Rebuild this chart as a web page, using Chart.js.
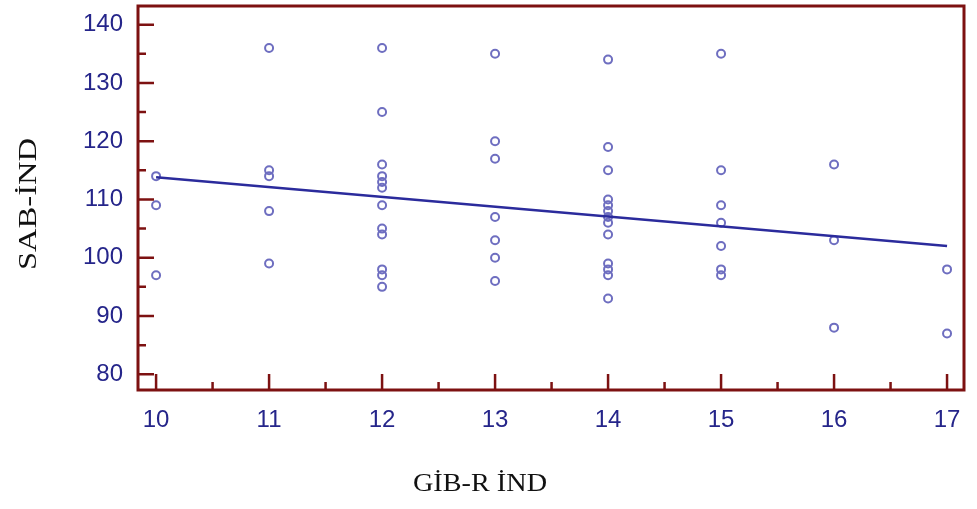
<!DOCTYPE html>
<html lang="tr">
<head>
<meta charset="UTF-8">
<title>SAB-İND / GİB-R İND</title>
<script src="https://cdn.jsdelivr.net/npm/chart.js"></script>
<style>
  html, body { margin: 0; padding: 0; background: #fff; }
  #wrap { width: 977px; height: 509px; }
</style>
</head>
<body>
<div id="wrap"><canvas id="chart"></canvas></div>
<script>
// tick labels
const xTicks = [10, 11, 12, 13, 14, 15, 16, 17];
const yTicks = [80, 90, 100, 110, 120, 130, 140];

// observations (GİB-R İND, SAB-İND)
const gibR = [
  10, 10, 10,
  11, 11, 11, 11, 11,
  12, 12, 12, 12, 12, 12, 12, 12, 12, 12, 12, 12,
  13, 13, 13, 13, 13, 13, 13,
  14, 14, 14, 14, 14, 14, 14, 14, 14, 14, 14, 14, 14,
  15, 15, 15, 15, 15, 15, 15,
  16, 16, 16,
  17, 17
];
const sabInd = [
  114, 109, 97,
  136, 115, 114, 108, 99,
  136, 125, 116, 114, 113, 112, 109, 105, 104, 98, 97, 95,
  135, 120, 117, 107, 103, 100, 96,
  134, 119, 115, 110, 109, 108, 107, 106, 104, 99, 98, 97, 93,
  135, 115, 109, 106, 102, 98, 97,
  116, 103, 88,
  98, 87
];

// regression line end points
const fitX = [10, 17];
const fitY = [113.8, 102.0];

const xTitle = 'GİB-R İND';
const yTitle = 'SAB-İND';

const frameColor = '#7d1111';
const labelColor = '#25258a';
const titleFont = '26px "Liberation Serif", "Times New Roman", serif';

// draws a string centred at (cx, cy), stretched to a given length
function stretchedText(ctx, text, cx, cy, len, rot) {
  ctx.save();
  ctx.translate(cx, cy);
  ctx.rotate(rot);
  const w = ctx.measureText(text).width;
  ctx.scale(len / w, 1);
  ctx.fillText(text, 0, 0);
  ctx.restore();
}

const frameTicks = {
  id: 'frameTicks',
  afterDatasetsDraw(chart) {
    const { ctx, chartArea: a, scales: { x, y } } = chart;
    ctx.save();
    ctx.strokeStyle = frameColor;
    ctx.lineWidth = 2.5;
    ctx.beginPath();
    // y ticks, pointing inward
    yTicks.forEach((v, i) => {
      const py = y.getPixelForValue(v);
      ctx.moveTo(a.left, py); ctx.lineTo(a.left + 16, py);
      if (i < yTicks.length - 1) {
        const pm = y.getPixelForValue((v + yTicks[i + 1]) / 2);
        ctx.moveTo(a.left, pm); ctx.lineTo(a.left + 8, pm);
      }
    });
    // x ticks, pointing inward
    xTicks.forEach((v, i) => {
      const px = x.getPixelForValue(v);
      ctx.moveTo(px, a.bottom); ctx.lineTo(px, a.bottom - 16);
      if (i < xTicks.length - 1) {
        const pm = x.getPixelForValue((v + xTicks[i + 1]) / 2);
        ctx.moveTo(pm, a.bottom); ctx.lineTo(pm, a.bottom - 8);
      }
    });
    ctx.stroke();
    ctx.lineWidth = 3;
    ctx.strokeRect(a.left, a.top, a.right - a.left, a.bottom - a.top);

    // axis titles
    ctx.fillStyle = '#111';
    ctx.font = titleFont;
    ctx.textAlign = 'center';
    ctx.textBaseline = 'middle';
    stretchedText(ctx, xTitle, 480, 484, 134, 0);
    stretchedText(ctx, yTitle, 29, 204, 132, -Math.PI / 2);
    ctx.restore();
  }
};

new Chart(document.getElementById('chart'), {
  type: 'scatter',
  data: {
    datasets: [
      {
        type: 'line',
        data: fitX.map((v, i) => ({ x: v, y: fitY[i] })),
        borderColor: '#2b2b9c',
        borderWidth: 2.5,
        pointRadius: 0,
        fill: false
      },
      {
        data: gibR.map((v, i) => ({ x: v, y: sabInd[i] })),
        pointStyle: 'circle',
        pointRadius: 4,
        borderWidth: 2,
        borderColor: '#6e6ec0',
        backgroundColor: 'rgba(0,0,0,0)'
      }
    ]
  },
  plugins: [frameTicks],
  options: {
    responsive: true,
    maintainAspectRatio: false,
    animation: false,
    devicePixelRatio: 1,
    layout: { padding: { left: 0, right: 13, top: 5, bottom: 0 } },
    plugins: { legend: { display: false }, tooltip: { enabled: false } },
    scales: {
      x: {
        type: 'linear',
        min: 9.84,
        max: 17.15,
        afterBuildTicks: s => { s.ticks = xTicks.map(v => ({ value: v })); },
        afterFit: s => { s.height = 119; s.paddingLeft = 0; s.paddingRight = 0; },
        grid: { display: false, drawTicks: false },
        border: { display: false },
        ticks: {
          padding: 16,
          color: labelColor,
          font: { family: 'Liberation Sans, Arial, sans-serif', size: 24 }
        }
      },
      y: {
        min: 77.3,
        max: 143.2,
        afterBuildTicks: s => { s.ticks = yTicks.map(v => ({ value: v })); },
        afterFit: s => { s.width = 138; s.paddingTop = 0; s.paddingBottom = 0; },
        grid: { display: false, drawTicks: false },
        border: { display: false },
        ticks: {
          padding: 15,
          color: labelColor,
          font: { family: 'Liberation Sans, Arial, sans-serif', size: 24 }
        }
      }
    }
  }
});
</script>
</body>
</html>
